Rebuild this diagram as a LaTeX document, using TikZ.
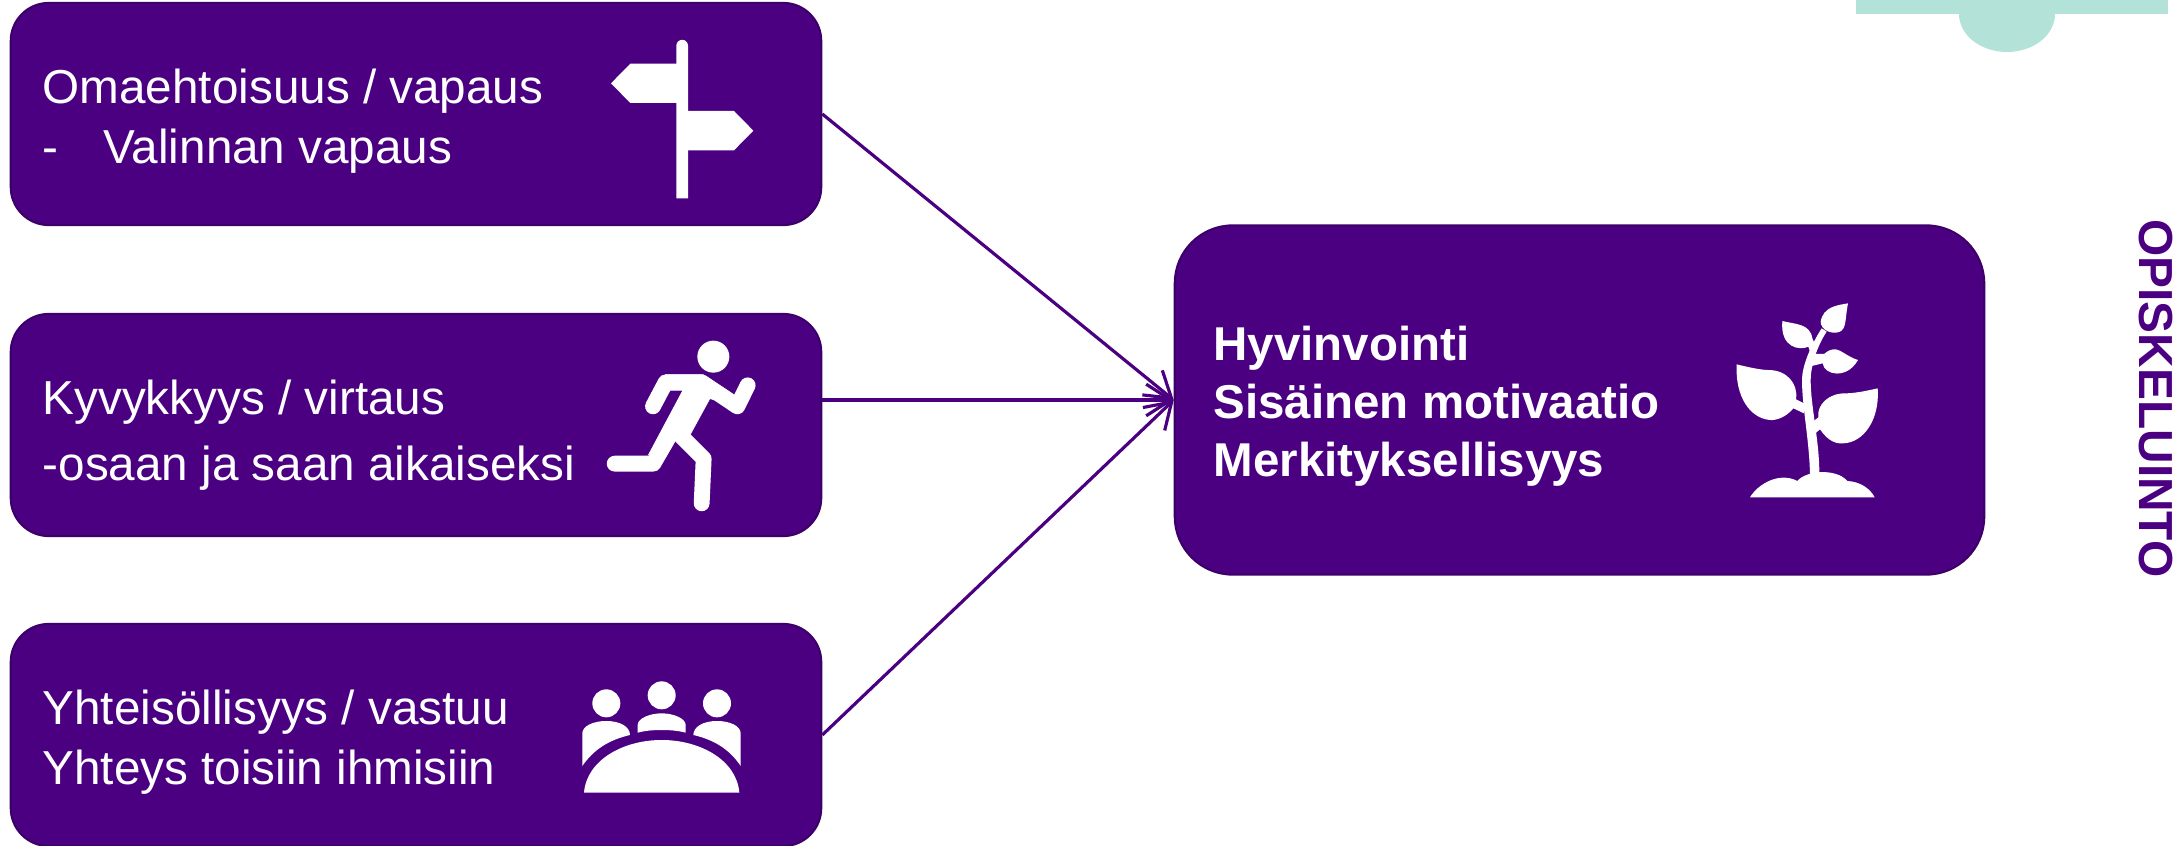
\documentclass[tikz,border=0pt]{standalone}
\usepackage{fontspec}
\setmainfont{Liberation Sans}
\usetikzlibrary{arrows.meta}
\definecolor{deeppurple}{HTML}{4B0082}
\definecolor{edgepurple}{HTML}{3C0068}
\definecolor{paletint}{HTML}{B3E2D9}
\begin{document}
\begin{tikzpicture}[x=0.01cm,y=-0.01cm,
        base/.style={draw=edgepurple,fill=deeppurple,line width=0.6pt},
        smallbox/.style={base,rounded corners=0.38cm,minimum width=8.10cm,minimum height=2.22cm},
        bigbox/.style={base,rounded corners=0.58cm,minimum width=8.09cm,minimum height=3.49cm},
        label/.style={anchor=west,align=left,text=white,inner sep=0pt,font=\fontsize{13.55}{17}\selectfont},
        boldlabel/.style={anchor=west,align=left,text=white,inner sep=0pt,font=\fontsize{13.5}{16.5}\selectfont\bfseries},
        link/.style={draw=deeppurple,line width=0.9pt,-{Straight Barb[length=7pt,width=9pt]}},
        icon/.style={fill=white,draw=none},
        limb/.style={draw=white,line width=4.5pt,line cap=round,line join=round}]
        \useasboundingbox (0,0) rectangle (2184,846);

        % Tab at the top right
        \fill[paletint] (1856,0) rectangle (2168,14);
        \fill[paletint] (1959,14) arc[start angle=180,end angle=0,x radius=48,y radius=38];

        % Boxes on the left and the big one on the right
        \node[smallbox] (box1) at (416,114) {};
        \node[smallbox] (box2) at (416,425) {};
        \node[smallbox] (box3) at (416,735) {};
        \node[bigbox] (box4) at (1579.5,400) {};

        \node[label] (text1) at (42,121) {Omaehtoisuus / vapaus\\-\hspace{0.45cm}Valinnan vapaus};
        \node[label,font=\fontsize{13.55}{18.6}\selectfont] (text2) at (42,435) {Kyvykkyys / virtaus\\-osaan ja saan aikaiseksi};
        \node[label] (text3) at (42,742) {Yhteisöllisyys / vastuu\\Yhteys toisiin ihmisiin};
        \node[boldlabel] (text4) at (1213,406) {Hyvinvointi\\Sisäinen motivaatio\\Merkityksellisyys};
        \node[rotate=-90,text=deeppurple,inner sep=0pt,font=\fontsize{13.6}{16}\selectfont\bfseries] (side) at (2156,398.5) {OPISKELUINTO};

        \draw[link] (box1.east) -- (box4.west);
        \draw[link] (box4.west -| box2.east) -- (box4.west);
        \draw[link] (box3.east) -- (box4.west);

        % Signpost
        \begin{scope}[shift={(590,30)},scale=1/3]
            \fill[icon] (259,505) -- (259,47) arc[start angle=180,end angle=360,radius=17.5] -- (294,505) -- cycle;
            \fill[icon] (63,160) -- (121,101) -- (265,101) -- (265,219) -- (121,219) -- cycle;
            \fill[icon] (490,302) -- (432,243) -- (288,243) -- (288,361) -- (432,361) -- cycle;
        \end{scope}

        % Runner
        \begin{scope}[shift={(570,320)},scale=1/3]
            \fill[icon] (430,110) circle[radius=48];
            \fill[icon] (285,163) -- (400,163) -- (490,222) -- (500,260) -- (420,237) -- (360,347) -- (308,367) -- (233,407) -- (337,212) -- (290,212) -- cycle;
            \draw[limb] (249,259) -- (287,187) -- (395,187) -- (502,259) -- (533,196);
            \draw[limb] (134,431) -- (250,431) -- (320,310);
            \draw[limb] (335,350) -- (401,416) -- (395,550);
        \end{scope}

        % People round a table
        \begin{scope}[shift={(550,620)},scale=1/3]
            \fill[icon] (169,250) circle[radius=42];
            \fill[icon] (335,226) circle[radius=42];
            \fill[icon] (501,250) circle[radius=42];
            \fill[icon] (102,518) .. controls (110,420) and (220,360) .. (335,360) .. controls (450,360) and (560,420) .. (568,518) -- cycle;
            \fill[icon] (97,438) -- (97,340) .. controls (97,318) and (130,303) .. (169,303) .. controls (210,303) and (240,320) .. (240,345) .. controls (175,360) and (130,390) .. (97,438) -- cycle;
            \fill[icon] (263,338) -- (263,315) .. controls (263,295) and (300,280) .. (335,280) .. controls (370,280) and (407,295) .. (407,315) -- (407,338) .. controls (385,332) and (360,330) .. (335,330) .. controls (310,330) and (285,332) .. (263,338) -- cycle;
            \fill[icon] (572,438) -- (572,340) .. controls (572,318) and (540,303) .. (501,303) .. controls (460,303) and (430,320) .. (430,345) .. controls (495,360) and (540,390) .. (572,438) -- cycle;
        \end{scope}

        % Plant
        \begin{scope}[shift={(1700,280)},scale=1/3]
            \fill[icon] (150,652) .. controls (175,610) and (240,575) .. (292,603) .. controls (320,570) and (410,565) .. (442,603) .. controls (480,605) and (510,625) .. (524,652) -- cycle;
            \fill[icon] (330,585) .. controls (328,480) and (306,380) .. (306,300) .. controls (306,260) and (330,200) .. (365,145) -- (380,155) .. controls (350,200) and (332,260) .. (332,300) .. controls (332,380) and (358,480) .. (358,580) -- cycle;
            \fill[icon] (110,253) .. controls (150,263) and (185,270) .. (205,270) .. controls (260,270) and (295,310) .. (288,358) -- (312,370) -- (312,400) -- (280,385) .. controls (260,410) and (230,422) .. (210,420) .. controls (150,415) and (105,350) .. (110,253) -- cycle;
            \fill[icon] (533,325) .. controls (490,335) and (460,340) .. (435,340) .. controls (385,340) and (350,375) .. (355,412) -- (335,428) -- (340,465) -- (360,448) .. controls (385,485) and (410,492) .. (430,490) .. controls (490,488) and (540,420) .. (533,325) -- cycle;
            \fill[icon] (247,123) .. controls (285,133) and (330,130) .. (337,175) -- (350,205) -- (330,215) -- (325,200) .. controls (300,212) and (240,205) .. (247,123) -- cycle;
            \fill[icon] (444,70) .. controls (410,76) and (370,80) .. (362,125) .. controls (362,150) and (395,165) .. (420,155) .. controls (440,145) and (435,115) .. (444,70) -- cycle;
            \fill[icon] (474,240) .. controls (440,230) and (420,205) .. (400,208) .. controls (385,210) and (378,218) .. (372,222) -- (335,222) -- (335,258) -- (368,250) .. controls (372,285) and (440,300) .. (474,240) -- cycle;
        \end{scope}
    \end{tikzpicture}
\end{document}
